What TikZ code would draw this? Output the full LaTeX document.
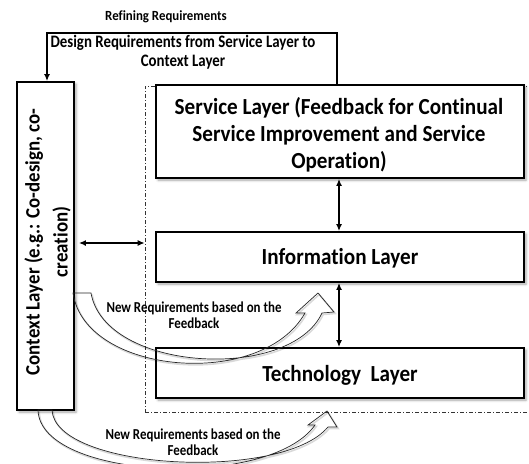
\documentclass[tikz,border=0pt]{standalone}
\usepackage{fontspec}
\setmainfont{Carlito}[FakeStretch=0.92,Ligatures=NoCommon]
\newfontfamily\narrowfont{Carlito}[FakeStretch=0.85,Ligatures=NoCommon]
\usetikzlibrary{arrows.meta,shadows.blur}
\begin{document}
\begin{tikzpicture}[x=1pt,y=-1pt,
  layerbox/.style={draw=black,line width=1.8pt,fill=white,inner sep=0pt,
    blur shadow={shadow xshift=2pt,shadow yshift=-2pt,shadow blur radius=2.5pt,shadow opacity=35}},
  layertext/.style={align=center,inner sep=0pt,font=\bfseries\fontsize{23}{27}\selectfont},
  frame/.style={draw=black!80,line width=0.7pt,dash pattern=on 4pt off 2pt on 1pt off 2pt,inner sep=0pt},
  link/.style={line width=1.5pt,-{Latex[length=7pt,width=6pt]}},
  duplex/.style={line width=1.5pt,{Latex[length=7pt,width=6pt]}-{Latex[length=7pt,width=6pt]}},
  hollow/.style={draw=black!85,line width=0.7pt},
  hollowshade/.style={draw=black,line width=1.6pt,opacity=0.15},
  smalllabel/.style={font=\narrowfont\bfseries\fontsize{15.2}{16}\selectfont,align=center,inner sep=0pt},
  looplabel/.style={font=\narrowfont\bfseries\fontsize{17.5}{19}\selectfont,align=center,inner sep=0pt}
]
\useasboundingbox (0,0) rectangle (529,463);

% outer dash-dot frame holding the three layers (open to the right)
\node[frame,minimum width=400pt,minimum height=326pt] (frame) at (345,249) {};

% the layers
\node[layerbox,minimum width=368pt,minimum height=93pt] (svc) at (340,131.5) {};
\node[layertext] (svctext) at (339,134.5)
  {Service Layer (Feedback for Continual\\Service Improvement and Service\\Operation)};
\node[layerbox,minimum width=368pt,minimum height=50pt] (info) at (340,257) {};
\node[layertext] (infotext) at (340,258) {Information Layer};
\node[layerbox,minimum width=368pt,minimum height=50pt] (tech) at (340,373) {};
\node[layertext] (techtext) at (340,375) {Technology\ \ Layer};
\node[layerbox,minimum width=57pt,minimum height=328pt] (ctx) at (45.5,246) {};
\node[rotate=90,align=center,inner sep=0pt,font=\bfseries\fontsize{20.5}{28}\selectfont] (ctxtext) at (47.5,242)
  {Context Layer (e.g.: Co-design, co-\\creation)};

% requirements loop from the service layer back to the context layer
\coordinate (loopR) at (337,33);
\coordinate (loopL) at (47,33);
\draw[link] (loopR |- svc.north) -- (loopR) -- (loopL) -- (loopL |- ctx.north);
\node[inner sep=0pt,font=\bfseries\fontsize{14}{16}\selectfont] (refine) at (166,17) {Refining Requirements};
\node[looplabel] (design) at (183,52.5) {Design Requirements from Service Layer to\\Context Layer};

% links between layers
\coordinate (axis) at (339,0);
\draw[duplex] (svc.south -| axis) -- (info.north -| axis);
\draw[duplex] (info.south -| axis) -- (tech.north -| axis);
\coordinate (hrow) at (0,243);
\draw[duplex,shorten <=4pt] (ctx.east |- hrow) -- (frame.west |- hrow);

% curved hollow arrows: new requirements based on the feedback
\begin{scope}[shift={(1.2,1.5)}]
  \draw[hollowshade] (73,293) .. controls (85,375) and (262,390) .. (305,313) -- (296,313) -- (318,293) -- (334,312)
    -- (322,313) .. controls (290,382) and (105,372) .. (91,293);
  \draw[hollowshade] (38,410) .. controls (40,480) and (270,490) .. (315,425) -- (308,425) -- (327,411) -- (337,427)
    -- (328,427) .. controls (282,482) and (55,470) .. (52,410);
\end{scope}
\draw[hollow] (73,293) .. controls (85,375) and (262,390) .. (305,313) -- (296,313) -- (318,293) -- (334,312)
  -- (322,313) .. controls (290,382) and (105,372) .. (91,293) -- cycle;
\draw[hollow] (38,410) .. controls (40,480) and (270,490) .. (315,425) -- (308,425) -- (327,411) -- (337,427)
  -- (328,427) .. controls (282,482) and (55,470) .. (52,410) -- cycle;

\node[smalllabel] (newreqA) at (194,315) {New Requirements based on the\\Feedback};
\node[smalllabel] (newreqB) at (193,442) {New Requirements based on the\\Feedback};
\end{tikzpicture}
\end{document}
